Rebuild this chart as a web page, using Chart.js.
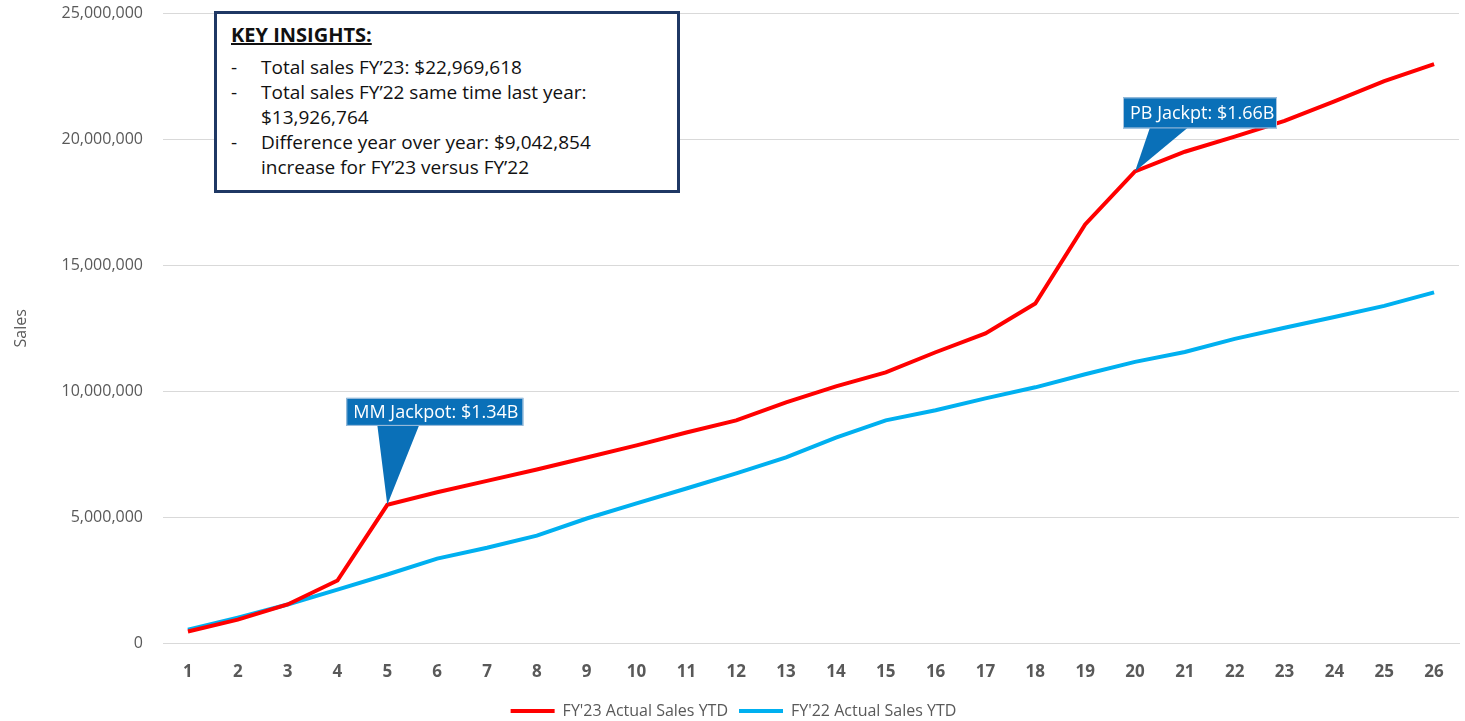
<!DOCTYPE html>
<html>
<head>
<meta charset="utf-8">
<script src="https://cdn.jsdelivr.net/npm/chart.js@4.4.1/dist/chart.umd.min.js"></script>
<style>
    body { margin: 0; background: #fff; }
    #wrap { position: relative; width: 1465px; height: 721px; }
    #insights {
        position: absolute; left: 214px; top: 11px; width: 460px; height: 176px;
        border: 3px solid #1f3864; background: #fff;
        font-family: "Open Sans", sans-serif; color: #111; font-size: 19px;
    }
    #insights .title { position: absolute; left: 14px; top: 7px; font-size: 20px; line-height: 27px; font-weight: bold; text-decoration: underline; }
    #insights .row { position: absolute; left: 14px; line-height: 25px; }
    #insights .row span { display: inline-block; width: 30px; }
    #insights .cont { position: absolute; left: 44px; line-height: 25px; }
</style>
</head>
<body>
<div id="wrap">
    <canvas id="salesChart" width="1465" height="721"></canvas>
    <div id="insights">
        <div class="title">KEY INSIGHTS:</div>
        <div class="row" style="top:41px"><span>-</span>Total sales FY’23: $22,969,618</div>
        <div class="row" style="top:66px"><span>-</span>Total sales FY’22 same time last year:</div>
        <div class="cont" style="top:91px">$13,926,764</div>
        <div class="row" style="top:116px"><span>-</span>Difference year over year: $9,042,854</div>
        <div class="cont" style="top:141px">increase for FY’23 versus FY’22</div>
    </div>
</div>
<script>
const weeks = ['1', '2', '3', '4', '5', '6', '7', '8', '9', '10', '11', '12', '13',
    '14', '15', '16', '17', '18', '19', '20', '21', '22', '23', '24', '25', '26'];

const sales23 = [480000, 950000, 1550000, 2500000, 5500000, 6000000, 6450000, 6900000,
    7380000, 7860000, 8370000, 8850000, 9560000, 10200000, 10750000, 11550000, 12300000,
    13480000, 16620000, 18720000, 19500000, 20100000, 20720000, 21500000, 22300000, 22969618];

const sales22 = [550000, 1030000, 1550000, 2140000, 2740000, 3370000, 3800000, 4280000,
    4960000, 5560000, 6150000, 6750000, 7380000, 8170000, 8850000, 9250000, 9720000,
    10160000, 10680000, 11170000, 11560000, 12080000, 12520000, 12950000, 13390000, 13926764];

const callouts = [
    { index: 4, text: 'MM Jackpot: $1.34B' },
    { index: 19, text: 'PB Jackpt: $1.66B' }
];

const calloutPlugin = {
    id: 'callouts',
    afterDatasetsDraw(chart) {
        const c = chart.ctx;
        const meta = chart.getDatasetMeta(0);
        c.save();
        c.font = '18px "Open Sans", sans-serif';
        callouts.forEach(function (item, i) {
            const p = meta.data[item.index];
            let bx, by, bw, bh, b1, b2;
            if (i === 0) {
                bx = p.x - 41; by = p.y - 107; bw = 177; bh = 28; b1 = p.x - 10; b2 = p.x + 32;
            } else {
                bx = p.x - 12; by = p.y - 74; bw = 154; bh = 31; b1 = p.x + 15; b2 = p.x + 53;
            }
            c.fillStyle = '#0a70b8';
            c.beginPath();
            c.moveTo(b1, by + bh - 1);
            c.lineTo(p.x, p.y);
            c.lineTo(b2, by + bh - 1);
            c.closePath();
            c.fill();
            c.fillRect(bx, by, bw, bh);
            c.strokeStyle = '#a9c4de';
            c.lineWidth = 1;
            c.strokeRect(bx + 0.5, by + 0.5, bw - 1, bh - 1);
            c.fillStyle = '#ffffff';
            c.textBaseline = 'middle';
            c.fillText(item.text, bx + 7, by + bh / 2 + 1);
        });
        c.restore();
    }
};

const ctx = document.getElementById('salesChart');

new Chart(ctx, {
    type: 'line',
    data: {
        labels: weeks,
        datasets: [
            {
                label: "FY'23 Actual Sales YTD",
                data: sales23,
                borderColor: '#ff0000',
                backgroundColor: '#ff0000',
                borderWidth: 4,
                pointRadius: 0,
                tension: 0
            },
            {
                label: "FY'22 Actual Sales YTD",
                data: sales22,
                borderColor: '#00b0f0',
                backgroundColor: '#00b0f0',
                borderWidth: 4,
                pointRadius: 0,
                tension: 0
            }
        ]
    },
    options: {
        responsive: false,
        animation: false,
        layout: { padding: { top: 0, right: 6, left: 8, bottom: -8 } },
        plugins: {
            tooltip: { enabled: false },
            legend: {
                position: 'bottom',
                labels: {
                    usePointStyle: true,
                    pointStyle: 'line',
                    pointStyleWidth: 44,
                    padding: 11,
                    color: '#595959',
                    font: { family: '"Open Sans", sans-serif', size: 16 }
                }
            }
        },
        scales: {
            x: {
                offset: true,
                grid: { display: false },
                border: { color: '#d9d9d9' },
                ticks: {
                    color: '#595959',
                    padding: 10,
                    font: { family: '"Open Sans", sans-serif', size: 17, weight: 'bold' }
                }
            },
            y: {
                min: 0,
                max: 25000000,
                grid: { color: '#d9d9d9', drawTicks: false },
                border: { display: false },
                afterFit: function (scale) {
                    scale.width = 155;
                    scale.paddingTop = 13;
                    scale.paddingBottom = 10;
                },
                title: {
                    display: true,
                    text: 'Sales',
                    color: '#595959',
                    font: { family: '"Open Sans", sans-serif', size: 16 }
                },
                ticks: {
                    stepSize: 5000000,
                    padding: 20,
                    color: '#595959',
                    font: { family: '"Open Sans", sans-serif', size: 16 },
                    callback: function (v) { return v.toLocaleString('en-US'); }
                }
            }
        }
    },
    plugins: [calloutPlugin]
});
</script>
</body>
</html>
